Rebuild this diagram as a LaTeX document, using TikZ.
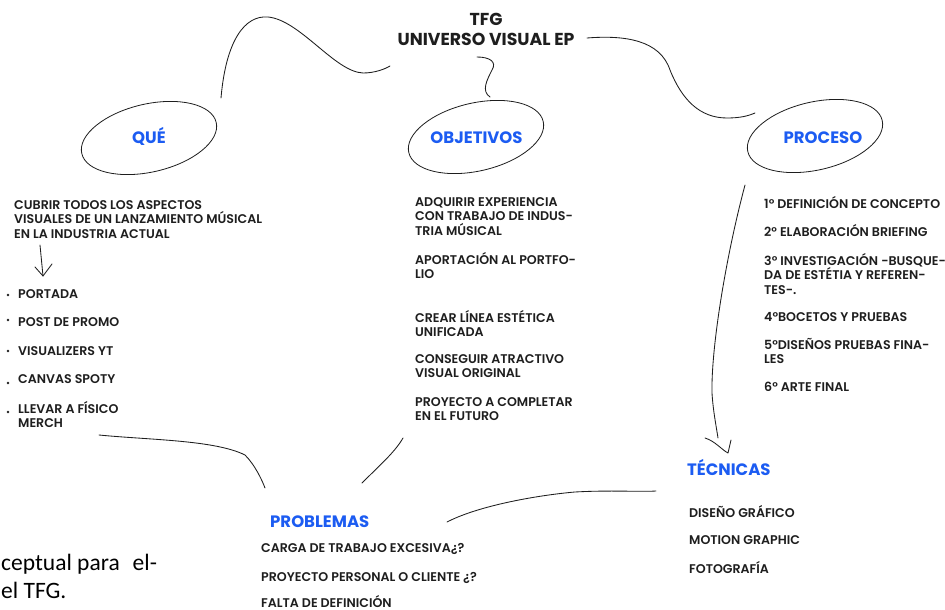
\documentclass[tikz,border=0pt]{standalone}
\usepackage{fontspec}
\setmainfont{Poppins SemiBold}
\newfontfamily\headf{Poppins Bold}
\newfontfamily\notef{Carlito}
\usetikzlibrary{shapes.geometric}
\definecolor{hblue}{RGB}{28,92,242}
\definecolor{ink}{RGB}{30,30,30}
\newcommand\mystrut{\rule{0pt}{11pt}}
\tikzset{
  body/.style={anchor=north west, inner sep=0pt, align=left, text=ink, font=\fontsize{12.6}{14.5}\selectfont},
  head/.style={anchor=base, inner sep=0pt, text=hblue, font=\headf\fontsize{16.5}{18}\selectfont},
  bubble/.style={draw=ink, ellipse, rotate=13, minimum width=138pt, minimum height=68pt, line width=0.8pt, inner sep=0pt},
  link/.style={draw=ink, line width=0.85pt, line cap=round, line join=round},
  dot/.style={fill=ink}
}
\begin{document}
\begin{tikzpicture}[x=1pt, y=-1pt]
\useasboundingbox (0,0) rectangle (945,610);
\fill[white] (0,0) rectangle (945,610);

% title
\node[anchor=north, inner sep=0pt, align=center, text=ink, font=\headf\fontsize{17.3}{20}\selectfont] (title) at (486,12) {\rule{0pt}{13pt}TFG\\UNIVERSO VISUAL EP};

% bubbles
\node[bubble] (queE) at (149,138) {};
\node[bubble] (objE) at (476,137) {};
\node[bubble] (proE) at (815,136) {};
\node[head] (que) at (149,143) {QUÉ};
\node[head] (obj) at (476.5,143) {OBJETIVOS};
\node[head] (pro) at (823,143) {PROCESO};
\node[head, anchor=base west] (tec) at (687,475) {TÉCNICAS};
\node[head, anchor=base west] (prob) at (270,527) {PROBLEMAS};

% QUE texts
\node[body] (qdesc) at (14,198) {\mystrut CUBRIR TODOS LOS ASPECTOS\\VISUALES DE UN LANZAMIENTO MÚSICAL\\EN LA INDUSTRIA ACTUAL};
\node[body] (q1) at (18,287) {\mystrut PORTADA};
\node[body] (q2) at (18,315) {\mystrut POST DE PROMO};
\node[body] (q3) at (18,344) {\mystrut VISUALIZERS YT};
\node[body] (q4) at (18,372) {\mystrut CANVAS SPOTY};
\node[body] (q5) at (18,401) {\mystrut LLEVAR A FÍSICO\\MERCH};
\fill[dot] (8,295) circle (1.3);
\fill[dot] (8,320) circle (1.3);
\fill[dot] (8,351) circle (1.3);
\fill[dot] (8,383) circle (1.3);
\fill[dot] (8,412) circle (1.3);

% OBJETIVOS texts
\node[body] (o1) at (415,195) {\mystrut ADQUIRIR EXPERIENCIA\\CON TRABAJO DE INDUS-\\TRIA MÚSICAL};
\node[body] (o2) at (415,252) {\mystrut APORTACIÓN AL PORTFO-\\LIO};
\node[body] (o3) at (415,310) {\mystrut CREAR LÍNEA ESTÉTICA\\UNIFICADA};
\node[body] (o4) at (415,352) {\mystrut CONSEGUIR ATRACTIVO\\VISUAL ORIGINAL};
\node[body] (o5) at (415,395) {\mystrut PROYECTO A COMPLETAR\\EN EL FUTURO};

% PROCESO texts
\node[body] (p1) at (764,196) {\mystrut 1° DEFINICIÓN DE CONCEPTO};
\node[body] (p2) at (764,224) {\mystrut 2° ELABORACIÓN BRIEFING};
\node[body] (p3) at (764,253) {\mystrut 3° INVESTIGACIÓN -BUSQUE-\\DA DE ESTÉTIA Y REFEREN-\\TES-.};
\node[body] (p4) at (764,310) {\mystrut 4°BOCETOS Y PRUEBAS};
\node[body] (p5) at (764,338) {\mystrut 5°DISEÑOS PRUEBAS FINA-\\LES};
\node[body] (p6) at (764,380) {\mystrut 6° ARTE FINAL};

% TECNICAS texts
\node[body] (t1) at (689,505) {\mystrut DISEÑO GRÁFICO};
\node[body] (t2) at (689,533) {\mystrut MOTION GRAPHIC};
\node[body] (t3) at (689,561) {\mystrut FOTOGRAFÍA};

% PROBLEMAS texts
\node[body] (b1) at (261,541) {\mystrut CARGA DE TRABAJO EXCESIVA¿?};
\node[body] (b2) at (261,570) {\mystrut PROYECTO PERSONAL O CLIENTE ¿?};
\node[body] (b3) at (261,595) {\mystrut FALTA DE DEFINICIÓN};

% note
\node[anchor=base west, inner sep=0pt, text=black, font=\notef\fontsize{23.5}{28}\selectfont] (note1) at (1,570) {ceptual para\hspace{0.55em}el-};
\node[anchor=base west, inner sep=0pt, text=black, font=\notef\fontsize{23.5}{28}\selectfont] (note2) at (1,598) {el TFG.};

% connector end points
\coordinate (c1a) at (221,98);
\coordinate (c1b) at (390,66);
\coordinate (c2a) at (477,57);
\coordinate (c2b) at (490,97);
\coordinate (c3a) at (587,38);
\coordinate (c3b) at (755,113);
\coordinate (c4a) at (745,185);
\coordinate (c4b) at (718,438);
\coordinate (c4t) at (728,453);
\coordinate (c5a) at (40,245);
\coordinate (c5t) at (43,276);
\coordinate (c6a) at (99,435);
\coordinate (c6b) at (265,488);
\coordinate (c7a) at (362,483);
\coordinate (c7b) at (403,438);
\coordinate (c8a) at (447,522);
\coordinate (c8b) at (656,491);

% connectors
\draw[link] (c1a) .. controls (226,40) and (245,15) .. (268,17) .. controls (300,20) and (335,72) .. (363,73) .. controls (375,73) and (385,69) .. (c1b);
\draw[link] (c2a) .. controls (490,57) and (497,62) .. (492,70) .. controls (487,80) and (481,91) .. (c2b);
\draw[link] (c3a) .. controls (625,35) and (660,40) .. (670,70) .. controls (682,100) and (700,118) .. (727,118) .. controls (740,118) and (748,116) .. (c3b);
\draw[link] (c4a) .. controls (725,260) and (711,350) .. (712,393) .. controls (713,410) and (716,425) .. (c4b);
\draw[link] (705,438) .. controls (715,441) and (722,450) .. (c4t) -- (731,440);
\draw[link] (c5a) -- (c5t);
\draw[link] (35,267) -- (c5t) -- (52,264);
\draw[link] (c6a) .. controls (150,440) and (215,440) .. (245,455) .. controls (255,465) and (262,480) .. (c6b);
\draw[link] (c7a) .. controls (380,465) and (395,452) .. (c7b);
\draw[link] (c8a) .. controls (480,505) and (540,495) .. (575,492) .. controls (610,490) and (640,492) .. (c8b);
\end{tikzpicture}
\end{document}
